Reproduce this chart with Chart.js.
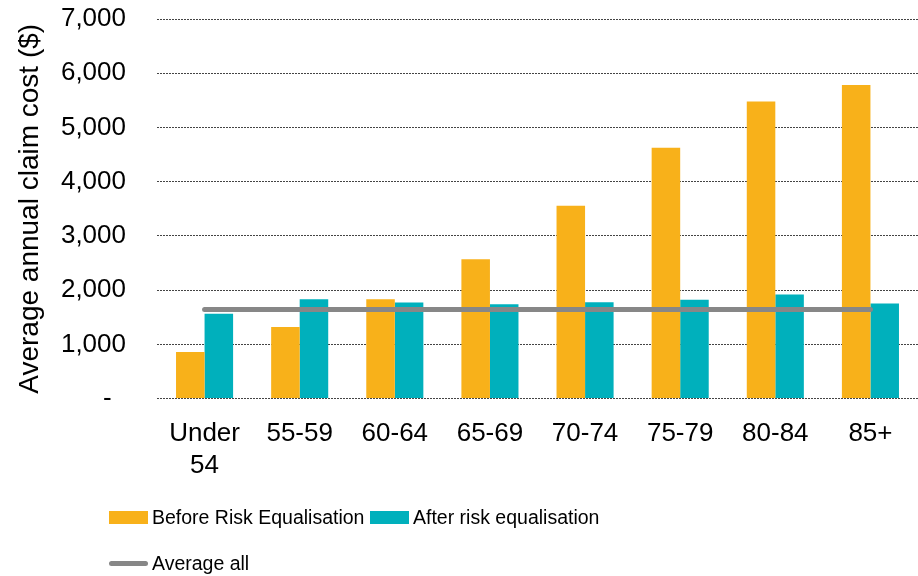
<!DOCTYPE html>
<html lang="en">
<head>
  <meta charset="UTF-8" />
  <title>Average annual claim cost by age</title>
  <script src="https://cdn.jsdelivr.net/npm/chart.js"></script>
  <style>
    body {
      margin: 0;
      padding: 0;
      background: #fff;
      font-family: "Liberation Sans", Arial, sans-serif;
    }
    .chart-container {
      position: relative;
      width: 918px;
      height: 576px;
    }
    #legend {
      position: absolute;
      left: 0;
      top: 0;
      width: 918px;
      height: 576px;
      pointer-events: none;
    }
    .legend-item {
      position: absolute;
      display: flex;
      align-items: center;
      font-family: "Liberation Sans", Arial, sans-serif;
      font-size: 19.5px;
      color: #000;
      white-space: nowrap;
    }
    .legend-swatch {
      width: 39px;
      height: 13px;
      margin-right: 4px;
    }
    .legend-line {
      width: 39px;
      height: 5px;
      border-radius: 3px;
      margin-right: 4px;
    }
  </style>
</head>
<body>
  <div class="chart-container">
    <canvas id="claimChart"></canvas>
    <div id="legend"></div>
  </div>

  <script>
    const ageGroups = [['Under', '54'], '55-59', '60-64', '65-69', '70-74', '75-79', '80-84', '85+'];
    const beforeEqualisation = [860, 1320, 1830, 2570, 3555, 4625, 5480, 5785];
    const afterEqualisation = [1565, 1830, 1770, 1740, 1775, 1825, 1920, 1755];
    const averageAll = [1645, 1645, 1645, 1645, 1645, 1645, 1645, 1645];
    const yTicks = [0, 1000, 2000, 3000, 4000, 5000, 6000, 7000];

    const orange = '#F8B11A';
    const teal = '#00B0BC';
    const grey = '#878787';

    const ctx = document.getElementById('claimChart').getContext('2d');

    const chart = new Chart(ctx, {
      type: 'bar',
      data: {
        labels: ageGroups,
        datasets: [
          {
            type: 'line',
            label: 'Average all',
            data: averageAll,
            borderColor: grey,
            backgroundColor: grey,
            borderWidth: 5,
            borderCapStyle: 'round',
            pointRadius: 0,
            fill: false,
            order: 0
          },
          {
            label: 'Before Risk Equalisation',
            data: beforeEqualisation,
            backgroundColor: orange,
            categoryPercentage: 0.6,
            barPercentage: 1.0,
            order: 1
          },
          {
            label: 'After risk equalisation',
            data: afterEqualisation,
            backgroundColor: teal,
            categoryPercentage: 0.6,
            barPercentage: 1.0,
            order: 1
          }
        ]
      },
      options: {
        responsive: true,
        maintainAspectRatio: false,
        animation: false,
        layout: {
          padding: { top: 19, right: 0, bottom: 75, left: 0 }
        },
        plugins: {
          legend: { display: false },
          tooltip: { enabled: false }
        },
        scales: {
          x: {
            grid: { display: false, drawTicks: false },
            border: { display: false },
            ticks: {
              color: '#000',
              padding: 20,
              maxRotation: 0,
              font: { family: '"Liberation Sans", Arial, sans-serif', size: 26 }
            }
          },
          y: {
            min: 0,
            max: 7000,
            afterFit: function(scale) { scale.width = 157; },
            afterBuildTicks: function(scale) {
              scale.ticks = yTicks.map(v => ({ value: v }));
            },
            grid: {
              color: '#444',
              lineWidth: 1,
              drawTicks: true,
              tickLength: 31,
              tickColor: 'rgba(0,0,0,0)'
            },
            border: { display: false, dash: [2, 1] },
            ticks: {
              color: '#000',
              padding: 0,
              font: { family: '"Liberation Sans", Arial, sans-serif', size: 26 },
              callback: function(value) {
                return value === 0 ? '-  ' : value.toLocaleString('en-US');
              }
            },
            title: {
              display: true,
              text: 'Average annual claim cost ($)',
              color: '#000',
              padding: { top: 13, bottom: 0 },
              font: { family: '"Liberation Sans", Arial, sans-serif', size: 28 }
            }
          }
        }
      }
    });

    // HTML legend: two rows like the original
    const legendRows = [
      [{ ds: 1, left: 109, top: 517 }, { ds: 2, left: 370, top: 517 }],
      [{ ds: 0, left: 109, top: 563 }]
    ];
    const legendEl = document.getElementById('legend');
    legendRows.flat().forEach(item => {
      const ds = chart.data.datasets[item.ds];
      const el = document.createElement('div');
      el.className = 'legend-item';
      el.style.left = item.left + 'px';
      el.style.top = (item.top - 14) + 'px';
      el.style.height = '28px';
      const sw = document.createElement('span');
      sw.className = ds.type === 'line' ? 'legend-line' : 'legend-swatch';
      sw.style.background = ds.type === 'line' ? ds.borderColor : ds.backgroundColor;
      const txt = document.createElement('span');
      txt.textContent = ds.label;
      el.appendChild(sw);
      el.appendChild(txt);
      legendEl.appendChild(el);
    });
  </script>
</body>
</html>
